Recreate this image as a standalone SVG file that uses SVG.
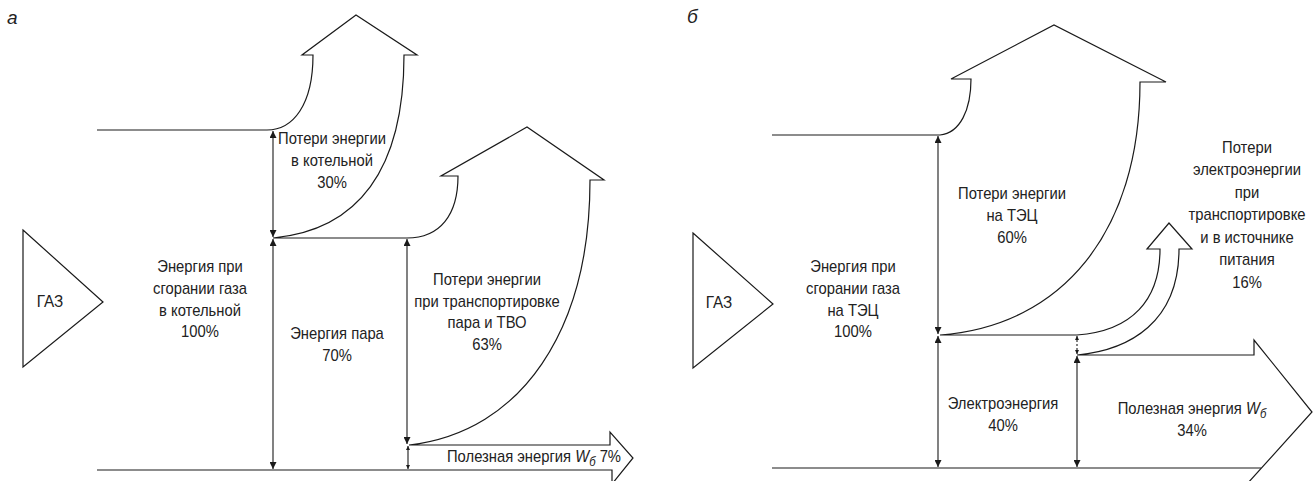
<svg xmlns="http://www.w3.org/2000/svg" width="1316" height="481" viewBox="0 0 1316 481">
<defs>
<style>
.ln{fill:none;stroke:#1a1a1a;stroke-width:1.2;stroke-linejoin:miter}
.dim{fill:none;stroke:#1a1a1a;stroke-width:1.1}
.t{font-family:"Liberation Sans",Arial,sans-serif;font-size:17px;fill:#222;text-anchor:middle}
.ts{font-family:"Liberation Sans",Arial,sans-serif;font-size:17px;fill:#222;text-anchor:start}
.lbl{font-family:"Liberation Sans",Arial,sans-serif;font-size:19px;font-style:italic;fill:#222}
.it{font-style:italic}
</style>
<marker id="ah" viewBox="0 0 10 10" refX="10" refY="5" markerWidth="15" markerHeight="7" markerUnits="userSpaceOnUse" orient="auto-start-reverse">
<path d="M0,0 L10,5 L0,10 z" fill="#1a1a1a"/>
</marker>
<marker id="ahs" viewBox="0 0 10 10" refX="10" refY="5" markerWidth="6" markerHeight="4" markerUnits="userSpaceOnUse" orient="auto-start-reverse">
<path d="M0,0 L10,5 L0,10 z" fill="#1a1a1a"/>
</marker>
</defs>

<text class="lbl" x="7" y="24">а</text>
<text class="lbl" x="687" y="23">б</text>

<!-- Diagram a -->
<g id="gas-a">
<polygon class="ln" points="23,230 103,302 23,367"/>
<text class="t" transform="translate(50,307) scale(0.9,1)">ГАЗ</text>
</g>
<g id="flow-a">
<path class="ln" d="M97,130 L267,130 C293,130 313,105 313,55 L302,55 L356,15 L417,55 L404,55 C404,170 358,230 273,238 L407,238 C440,238 458,215 458,176 L441,176 L527,127 L604,180 L590,180 C590,330 522,432 409,445 L610,445 L610,432 L633,458 L612,484"/>
<path class="ln" d="M97,470 L612,470 L612,484"/>
</g>
<g id="dims-a">
<line class="dim" x1="273" y1="131" x2="273" y2="237" marker-start="url(#ah)" marker-end="url(#ah)"/>
<line class="dim" x1="273" y1="239" x2="273" y2="469" marker-start="url(#ah)" marker-end="url(#ah)"/>
<line class="dim" x1="407" y1="239" x2="407" y2="444" marker-start="url(#ah)" marker-end="url(#ah)"/>
<line class="dim" x1="408" y1="446" x2="408" y2="469" marker-start="url(#ahs)" marker-end="url(#ahs)"/>
</g>
<g id="label-loss-boiler">
<text class="t" transform="translate(332,144) scale(0.87,1)"><tspan x="0">Потери энергии</tspan><tspan x="0" dy="22">в котельной</tspan><tspan x="0" dy="22">30%</tspan></text>
</g>
<g id="label-gas-a">
<text class="t" transform="translate(200,272) scale(0.87,1)"><tspan x="0">Энергия при</tspan><tspan x="0" dy="21.8">сгорании газа</tspan><tspan x="0" dy="21.8">в котельной</tspan><tspan x="0" dy="21.8">100%</tspan></text>
</g>
<g id="label-steam">
<text class="t" transform="translate(337,339) scale(0.87,1)"><tspan x="0">Энергия пара</tspan><tspan x="0" dy="22">70%</tspan></text>
</g>
<g id="label-loss-transport">
<text class="t" transform="translate(487,285) scale(0.87,1)"><tspan x="0">Потери энергии</tspan><tspan x="0" dy="21.7">при транспортировке</tspan><tspan x="0" dy="21.7">пара и ТВО</tspan><tspan x="0" dy="21.7">63%</tspan></text>
</g>
<g id="label-useful-a">
<text class="ts" transform="translate(447,462) scale(0.87,1)">Полезная энергия <tspan class="it">W</tspan><tspan class="it" font-size="13" dy="4">б</tspan><tspan dy="-4"> 7%</tspan></text>
</g>

<!-- Diagram b -->
<g id="gas-b">
<polygon class="ln" points="693,233 773,304 693,368"/>
<text class="t" transform="translate(719,308) scale(0.9,1)">ГАЗ</text>
</g>
<g id="flow-b">
<path class="ln" d="M772,135 L940,135 C960,133 971,110 971,79 L951,79 L1054,25 L1166,82 L1140,82 C1140,232 1062,326 940,335 L1077,335 C1132,331 1160,300 1160,249 L1147,249 L1169,223 L1192,249 L1179,249 C1179,322 1130,350 1077,355 L1254,355 L1254,340 L1312,412 L1247,484"/>
<path class="ln" d="M772,468 L1261,468"/>
</g>
<g id="dims-b">
<line class="dim" x1="938" y1="136" x2="938" y2="334" marker-start="url(#ah)" marker-end="url(#ah)"/>
<line class="dim" x1="938" y1="336" x2="938" y2="467" marker-start="url(#ah)" marker-end="url(#ah)"/>
<line class="dim" x1="1077" y1="336" x2="1077" y2="354" stroke-dasharray="2,2" marker-start="url(#ahs)" marker-end="url(#ahs)"/>
<line class="dim" x1="1077" y1="356" x2="1077" y2="467" marker-start="url(#ah)" marker-end="url(#ah)"/>
</g>
<g id="label-loss-chp">
<text class="t" transform="translate(1012,199) scale(0.87,1)"><tspan x="0">Потери энергии</tspan><tspan x="0" dy="22">на ТЭЦ</tspan><tspan x="0" dy="22">60%</tspan></text>
</g>
<g id="label-gas-b">
<text class="t" transform="translate(853,272) scale(0.87,1)"><tspan x="0">Энергия при</tspan><tspan x="0" dy="21.8">сгорании газа</tspan><tspan x="0" dy="21.8">на ТЭЦ</tspan><tspan x="0" dy="21.8">100%</tspan></text>
</g>
<g id="label-electric">
<text class="t" transform="translate(1003,409) scale(0.87,1)"><tspan x="0">Электроэнергия</tspan><tspan x="0" dy="22">40%</tspan></text>
</g>
<g id="label-loss-electric">
<text class="t" transform="translate(1247,153) scale(0.87,1)"><tspan x="0">Потери</tspan><tspan x="0" dy="22.5">электроэнергии</tspan><tspan x="0" dy="22.5">при</tspan><tspan x="0" dy="22.5">транспортировке</tspan><tspan x="0" dy="22.5">и в источнике</tspan><tspan x="0" dy="22.5">питания</tspan><tspan x="0" dy="22.5">16%</tspan></text>
</g>
<g id="label-useful-b">
<text class="t" transform="translate(1192,414) scale(0.87,1)"><tspan x="0">Полезная энергия <tspan class="it">W</tspan><tspan class="it" font-size="13" dy="4">б</tspan></tspan><tspan x="0" dy="18">34%</tspan></text>
</g>
</svg>
